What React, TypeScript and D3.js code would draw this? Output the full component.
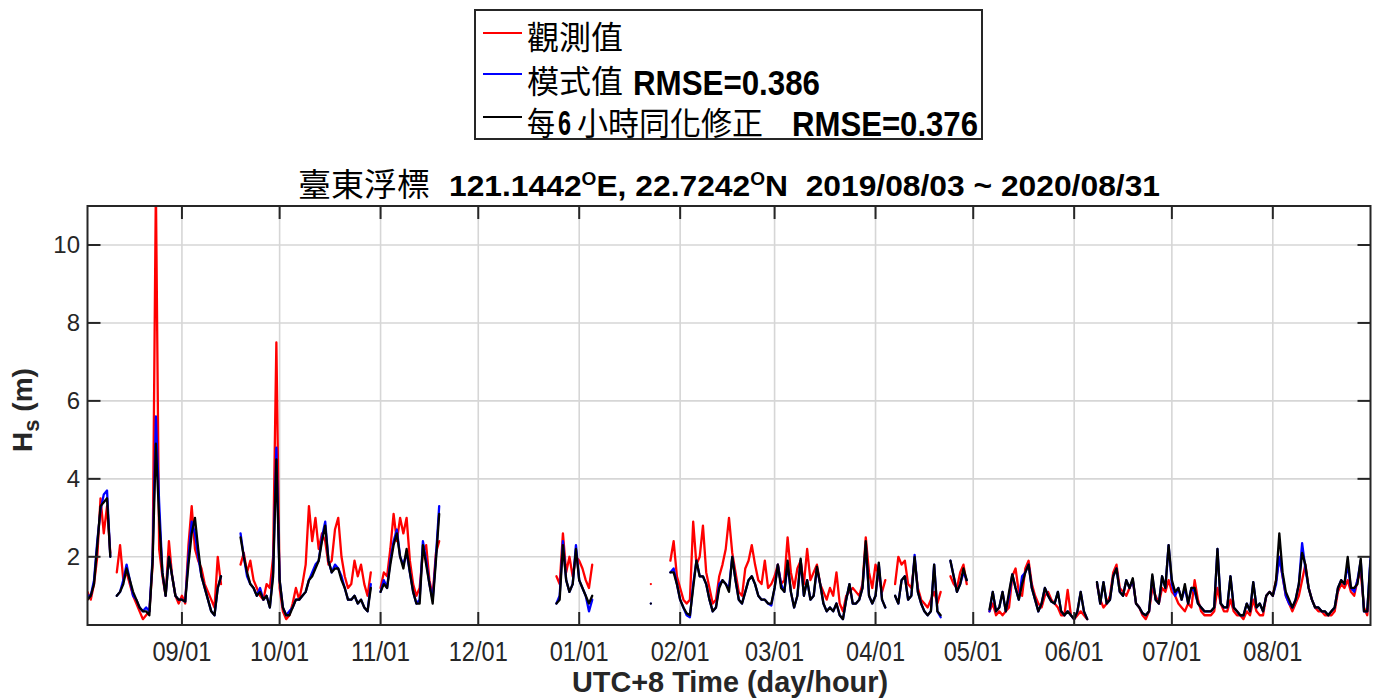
import React from "react";
import * as d3 from "d3";

// each segment holds consecutive daily Hs samples starting at segStarts[k]
const segStarts = [
  "2019-08-03", "2019-08-12", "2019-09-19", "2019-11-01", "2019-12-25", "2020-01-23",
  "2020-01-29", "2020-04-07", "2020-04-24", "2020-05-06", "2020-06-08",
];

// 觀測值 (buoy observation)
const obsHs = [
  [1.1, 0.9, 1.3, 2.0, 3.5, 2.6, 3.3, 2.1],
  [1.6, 2.3, 1.4, 1.6, 1.3, 1.0, 0.8, 0.6, 0.4, 0.5, 0.6, 1.8, 11.5, 2.2, 1.5, 1.0, 2.4, 1.5, 1.0, 0.8,
   1.0, 0.8, 2.3, 3.3, 2.2, 1.9, 1.7, 1.3, 1.1, 0.9, 0.7, 2.0, 1.3],
  [1.8, 2.1, 1.6, 1.9, 1.4, 1.2, 1.0, 0.9, 1.3, 1.2, 2.0, 7.5, 1.2, 0.6, 0.4, 0.5, 0.8, 1.2, 0.9, 1.3,
   1.8, 3.3, 2.4, 3.0, 2.2, 2.6, 2.4, 1.8, 1.9, 2.7, 3.0, 2.0, 1.5, 1.2, 1.3, 1.9, 1.5, 1.8, 1.3, 1.0, 1.6],
  [1.2, 1.6, 1.5, 2.2, 3.1, 2.4, 3.0, 2.6, 3.0, 1.9, 1.3, 1.0, 1.2, 2.1, 2.3, 1.4, 1.0, 2.1, 2.4],
  [1.5, 1.3, 2.6, 1.6, 2.0, 1.5, 2.0, 1.9, 1.7, 1.4, 1.2, 1.8],
  [1.3],
  [1.9, 2.4, 1.5, 1.2, 0.9, 0.8, 0.9, 2.9, 1.8, 2.0,
   2.8, 1.6, 1.2, 0.8, 0.9, 1.5, 1.8, 2.2, 3.0, 2.1,
   1.6, 1.1, 1.0, 1.7, 1.9, 2.3, 1.8, 1.4, 1.3, 1.9,
   1.2, 1.3, 1.5, 1.8, 1.3, 1.4, 2.5, 1.6, 1.2, 1.7,
   1.9, 1.3, 2.2, 1.4, 1.6, 1.8, 1.3, 1.1, 0.9, 1.2,
   1.0, 1.6, 0.8, 0.6, 1.0, 1.1, 1.2, 1.1, 1.0, 1.3,
   2.5, 1.6, 1.2, 1.8, 1.5, 1.1, 1.4],
  [1.3, 2.0, 1.8, 1.9, 1.3, 1.2, 1.9, 1.2, 0.9, 0.8, 0.7, 0.9, 1.1, 0.8, 1.1],
  [1.5, 1.3, 1.2, 1.6, 1.8, 1.3],
  [0.6, 0.8, 0.5, 0.6, 0.5, 0.6, 0.7, 1.5, 1.7, 1.1,
   1.0, 1.7, 1.9, 1.3, 1.0, 0.8, 0.7, 1.0, 1.1, 0.9,
   0.8, 0.7, 0.5, 0.5, 1.15, 0.5, 0.4, 0.5, 0.6, 0.5, 0.4],
  [1.3, 0.9, 0.7, 0.8, 1.0, 1.6, 1.8, 1.2, 1.1, 1.0,
   1.2, 1.4, 0.8, 0.7, 0.5, 0.4, 0.6, 1.2, 1.0, 0.8,
   1.2, 1.1, 1.4, 1.1, 1.0, 0.8, 0.7, 0.6, 0.8, 0.7,
   1.4, 0.9, 0.6, 0.5, 0.5, 0.5, 0.6, 1.2, 0.8, 0.6,
   0.6, 0.9, 0.6, 0.5, 0.5, 0.4, 0.6, 0.5, 0.9, 0.6,
   0.5, 0.5, 1.0, 1.1, 1.0, 1.4, 2.0, 1.5, 1.0, 0.8,
   0.6, 0.8, 1.0, 1.4, 1.8, 1.2, 0.9, 0.7, 0.6, 0.6,
   0.5, 0.5, 0.5, 0.6, 1.1, 1.3, 1.2, 1.4, 1.1, 1.0,
   1.4, 1.6, 0.7, 0.5, 1.5],
];

// 模式值 (wave model)
const modelHs = [
  [1.0, 1.0, 1.4, 2.4, 3.2, 3.6, 3.7, 2.0],
  [1.0, 1.1, 1.4, 1.8, 1.4, 1.0, 0.9, 0.7, 0.6, 0.7, 0.6, 2.0, 5.6, 3.4, 1.6, 1.0, 2.0, 1.5, 1.0, 0.9,
   0.9, 0.85, 2.0, 2.9, 2.6, 2.0, 1.5, 1.2, 0.9, 0.6, 0.5, 1.2, 1.5],
  [2.6, 2.0, 1.5, 1.3, 1.2, 1.0, 1.2, 0.9, 1.0, 0.7, 1.6, 4.8, 1.4, 0.7, 0.5, 0.6, 0.7, 0.9, 0.9, 1.0,
   1.1, 1.4, 1.6, 1.8, 1.9, 2.5, 2.9, 1.9, 1.6, 1.8, 1.7, 1.5, 1.2, 0.9, 0.9, 1.0, 0.8, 0.9, 0.7, 0.6, 1.3],
  [1.1, 1.4, 1.2, 1.9, 2.4, 2.7, 2.0, 1.8, 2.1, 1.6, 1.1, 0.8, 0.9, 2.4, 1.9, 1.3, 0.9, 2.0, 3.3],
  [0.8, 1.0, 2.4, 1.4, 1.1, 1.3, 2.3, 1.4, 1.2, 1.0, 0.6, 0.9],
  [0.8],
  [1.6, 1.7, 1.3, 0.9, 0.7, 0.5, 0.45, 1.3, 1.9, 1.5,
   1.5, 1.3, 0.9, 0.6, 0.7, 1.3, 1.4, 1.3, 1.2, 2.0,
   1.4, 0.9, 0.8, 1.1, 1.4, 1.5, 1.3, 1.0, 0.9, 0.9,
   0.8, 0.75, 1.2, 1.8, 1.3, 1.1, 1.8, 1.1, 0.7, 1.0,
   1.9, 1.0, 1.4, 0.9, 1.0, 1.7, 1.3, 0.8, 0.6, 0.7,
   0.6, 0.8, 0.5, 0.4, 0.9, 1.3, 0.8, 0.8, 0.9, 1.2,
   2.3, 1.0, 0.8, 1.0, 1.8, 0.9, 0.7],
  [1.0, 0.8, 1.4, 1.5, 0.9, 1.0, 2.05, 1.1, 0.8, 0.6, 0.5, 0.6, 1.8, 0.6, 0.45],
  [1.9, 1.5, 1.1, 1.3, 1.6, 1.4],
  [0.6, 1.1, 0.6, 0.7, 1.1, 0.6, 1.0, 1.55, 1.2, 0.9,
   1.5, 1.6, 1.8, 1.2, 0.9, 0.6, 0.8, 1.2, 1.0, 0.85,
   0.8, 1.1, 0.6, 0.5, 0.6, 0.5, 0.4, 0.6, 1.1, 0.6, 0.4],
  [1.35, 0.8, 1.35, 0.8, 0.9, 1.5, 1.7, 1.1, 1.0, 1.4,
   1.2, 1.4, 0.8, 0.7, 0.55, 0.5, 0.6, 1.5, 0.9, 0.8,
   1.5, 1.2, 2.3, 1.3, 1.0, 1.2, 0.9, 1.2, 0.8, 1.2,
   1.1, 0.8, 0.7, 0.6, 0.6, 0.6, 0.7, 2.2, 0.8, 0.7,
   0.7, 1.5, 0.7, 0.6, 0.5, 0.5, 0.8, 0.6, 1.35, 0.7,
   0.8, 0.6, 1.0, 1.1, 1.0, 1.3, 2.0, 1.5, 1.0, 0.8,
   0.7, 0.9, 1.3, 2.35, 1.7, 1.2, 0.9, 0.7, 0.7, 0.6,
   0.6, 0.5, 0.6, 0.7, 1.2, 1.4, 1.3, 1.8, 1.2, 1.1,
   1.4, 1.9, 0.6, 0.6, 2.0],
];

// 每6小時同化修正 (6-hourly assimilation)
const assimHs = [
  [0.9, 1.0, 1.3, 2.3, 3.3, 3.4, 3.5, 2.0],
  [1.0, 1.1, 1.3, 1.7, 1.4, 1.1, 0.9, 0.7, 0.6, 0.6, 0.5, 1.9, 4.9, 3.0, 1.6, 1.0, 2.0, 1.5, 1.0, 0.9,
   0.9, 0.85, 1.8, 2.6, 3.0, 2.2, 1.5, 1.2, 0.9, 0.6, 0.5, 1.2, 1.5],
  [2.5, 2.0, 1.6, 1.3, 1.2, 1.0, 1.1, 0.9, 1.0, 0.7, 1.5, 4.5, 1.4, 0.7, 0.5, 0.5, 0.7, 0.9, 0.9, 1.0,
   1.1, 1.4, 1.5, 1.7, 1.9, 2.4, 2.8, 1.9, 1.6, 1.7, 1.7, 1.4, 1.2, 0.9, 0.9, 1.0, 0.8, 0.9, 0.7, 0.6, 1.2],
  [1.1, 1.3, 1.2, 1.8, 2.3, 2.6, 2.0, 1.7, 2.2, 1.6, 1.1, 0.8, 0.8, 2.3, 1.8, 1.3, 0.8, 1.9, 3.1],
  [0.8, 0.9, 2.3, 1.4, 1.1, 1.3, 2.2, 1.4, 1.2, 1.0, 0.8, 1.0],
  [0.8],
  [1.6, 1.6, 1.3, 0.9, 0.7, 0.55, 0.5, 1.2, 1.9, 1.5,
   1.5, 1.3, 0.9, 0.6, 0.7, 1.2, 1.4, 1.3, 1.1, 2.0,
   1.4, 0.9, 0.8, 1.1, 1.4, 1.5, 1.3, 1.0, 0.9, 0.9,
   0.8, 0.8, 1.2, 1.8, 1.2, 1.1, 1.9, 1.1, 0.7, 1.0,
   1.95, 1.0, 1.4, 0.9, 1.0, 1.75, 1.3, 0.8, 0.6, 0.7,
   0.6, 0.8, 0.5, 0.4, 0.9, 1.3, 0.8, 0.8, 0.9, 1.2,
   2.4, 1.0, 0.8, 1.0, 1.85, 0.9, 0.7],
  [1.0, 0.8, 1.4, 1.5, 0.9, 1.0, 2.0, 1.1, 0.8, 0.6, 0.5, 0.6, 1.8, 0.6, 0.5],
  [1.9, 1.5, 1.1, 1.3, 1.7, 1.4],
  [0.65, 1.1, 0.6, 0.7, 1.1, 0.6, 1.1, 1.55, 1.2, 0.9,
   1.3, 1.6, 1.8, 1.2, 0.9, 0.6, 0.8, 1.2, 1.0, 0.85,
   0.8, 1.1, 0.6, 0.5, 0.6, 0.5, 0.4, 0.6, 1.1, 0.6, 0.4],
  [1.35, 0.8, 1.35, 0.8, 0.9, 1.5, 1.7, 1.1, 1.0, 1.4,
   1.2, 1.45, 0.8, 0.7, 0.55, 0.5, 0.6, 1.55, 0.9, 0.8,
   1.5, 1.2, 2.3, 1.4, 1.1, 1.2, 0.9, 1.3, 0.8, 1.2,
   1.2, 0.8, 0.7, 0.6, 0.6, 0.6, 0.7, 2.2, 0.8, 0.7,
   0.7, 1.5, 0.7, 0.6, 0.5, 0.5, 0.8, 0.6, 1.35, 0.7,
   0.8, 0.6, 1.0, 1.1, 1.0, 1.4, 2.6, 1.6, 1.1, 0.9,
   0.7, 0.9, 1.3, 2.1, 1.8, 1.2, 0.9, 0.7, 0.7, 0.6,
   0.6, 0.5, 0.6, 0.7, 1.2, 1.4, 1.3, 2.0, 1.2, 1.2,
   1.3, 1.95, 0.6, 0.6, 1.9],
];

const monthTicks = [
  "2019-09-01", "2019-10-01", "2019-11-01", "2019-12-01", "2020-01-01", "2020-02-01",
  "2020-03-01", "2020-04-01", "2020-05-01", "2020-06-01", "2020-07-01", "2020-08-01",
];
const yTicks = [2, 4, 6, 8, 10];

const cjk = "'Noto Sans CJK TC', 'Noto Sans CJK SC', sans-serif";
const sans = "'Liberation Sans', Arial, sans-serif";
const narrow = "'Liberation Sans Narrow', 'Arial Narrow', 'Liberation Sans', sans-serif";
const axisColor = "#262626";

const parseDay = d3.timeParse("%Y-%m-%d");
const fmtTick = d3.timeFormat("%m/%d");

type Pt = { t: Date; v: number };

const App = () => {
  const left = 87.5, right = 1370.5, top = 206, bottom = 625;

  const x = d3.scaleTime()
    .domain([parseDay("2019-08-03")!, parseDay("2020-08-31")!])
    .range([left, right]);
  const y = d3.scaleLinear().domain([0.25, 11]).range([bottom, top]);

  const line = d3.line<Pt>().x(d => x(d.t)).y(d => y(d.v));

  const toSegs = (series: number[][]) =>
    series.map((vals, k) => {
      const start = parseDay(segStarts[k])!;
      return vals.map((v, i) => ({ t: d3.timeDay.offset(start, i), v }));
    });

  const series = [
    { color: "#ff0000", segs: toSegs(obsHs) },
    { color: "#0000ff", segs: toSegs(modelHs) },
    { color: "#000000", segs: toSegs(assimHs) },
  ];

  const xTicks = monthTicks.map(s => parseDay(s)!);

  return (
    <svg width={1381} height={700} style={{ position: "absolute", left: 0, top: 0, background: "#fff" }}>
      <defs>
        <clipPath id="plotClip">
          <rect x={left} y={top} width={right - left} height={bottom - top} />
        </clipPath>
      </defs>

      {/* legend */}
      <rect x={475} y={10} width={507} height={129} fill="#fff" stroke={axisColor} strokeWidth={2} />
      {[33, 74, 117].map((ly, i) => (
        <line key={i} x1={483} x2={522} y1={ly} y2={ly} stroke={series[i].color} strokeWidth={2} />
      ))}
      <text x={527} y={49} fontFamily={cjk} fontSize={32} textLength={96} lengthAdjust="spacingAndGlyphs">觀測值</text>
      <text x={527} y={93} fontFamily={cjk} fontSize={32} textLength={96} lengthAdjust="spacingAndGlyphs">模式值</text>
      <text x={633} y={95} fontFamily={sans} fontWeight="bold" fontSize={35} textLength={187} lengthAdjust="spacingAndGlyphs">RMSE=0.386</text>
      <text x={527} y={135} fontFamily={cjk} fontSize={32} textLength={28} lengthAdjust="spacingAndGlyphs">每</text>
      <text x={558} y={135} fontFamily={sans} fontWeight="bold" fontSize={35} textLength={13} lengthAdjust="spacingAndGlyphs">6</text>
      <text x={577} y={135} fontFamily={cjk} fontSize={32} textLength={186} lengthAdjust="spacingAndGlyphs">小時同化修正</text>
      <text x={792} y={136} fontFamily={sans} fontWeight="bold" fontSize={35} textLength={186} lengthAdjust="spacingAndGlyphs">RMSE=0.376</text>

      {/* title */}
      <text x={298} y={196} fontFamily={cjk} fontSize={32} textLength={132} lengthAdjust="spacingAndGlyphs">臺東浮標</text>
      <text x={449} y={196} fontFamily={narrow} fontWeight="bold" fontSize={30} textLength={711}
        lengthAdjust="spacingAndGlyphs" style={{ whiteSpace: "pre" }}>
        121.1442<tspan dy={-11} fontSize={18}>O</tspan><tspan dy={11}>E, 22.7242</tspan>
        <tspan dy={-11} fontSize={18}>O</tspan><tspan dy={11}>{"N  2019/08/03 ~ 2020/08/31"}</tspan>
      </text>

      {/* grid */}
      <g stroke="#d6d6d6" strokeWidth={1.6}>
        {xTicks.map((t, i) => <line key={i} x1={x(t)} x2={x(t)} y1={top} y2={bottom} />)}
        {yTicks.map(v => <line key={v} x1={left} x2={right} y1={y(v)} y2={y(v)} />)}
      </g>

      {/* data */}
      <g clipPath="url(#plotClip)" fill="none" strokeLinejoin="round" strokeLinecap="round">
        {series.map((s, i) => (
          <g key={i} stroke={s.color} strokeWidth={2.3}>
            {s.segs.map((seg, k) => <path key={k} d={line(seg) || ""} />)}
          </g>
        ))}
      </g>

      {/* axes box and ticks */}
      <rect x={left} y={top} width={right - left} height={bottom - top} fill="none" stroke={axisColor} strokeWidth={2} />
      <g stroke={axisColor} strokeWidth={2}>
        {xTicks.map((t, i) => (
          <g key={i}>
            <line x1={x(t)} x2={x(t)} y1={bottom} y2={bottom - 13} />
            <line x1={x(t)} x2={x(t)} y1={top} y2={top + 13} />
          </g>
        ))}
        {yTicks.map(v => (
          <g key={v}>
            <line x1={left} x2={left + 13} y1={y(v)} y2={y(v)} />
            <line x1={right} x2={right - 13} y1={y(v)} y2={y(v)} />
          </g>
        ))}
      </g>

      {/* tick labels */}
      {xTicks.map((t, i) => (
        <text key={i} x={x(t)} y={661} textAnchor="middle" fontFamily={narrow} fontSize={28} fill="#262626"
          textLength={59} lengthAdjust="spacingAndGlyphs">{fmtTick(t)}</text>
      ))}
      {yTicks.map(v => (
        <text key={v} x={80} y={y(v) + 8.5} textAnchor="end" fontFamily={sans} fontSize={24} fill="#262626">{v}</text>
      ))}

      {/* axis labels */}
      <text x={730} y={692} textAnchor="middle" fontFamily={narrow} fontWeight="bold" fontSize={30} fill="#262626"
        textLength={316} lengthAdjust="spacingAndGlyphs">UTC+8 Time (day/hour)</text>
      <text transform="translate(32,410) rotate(-90)" textAnchor="middle" fontFamily={sans} fontWeight="bold"
        fontSize={28} fill="#262626" style={{ whiteSpace: "pre" }}>
        H<tspan dy={7} fontSize={22}>s</tspan><tspan dy={-7}>{" (m)"}</tspan>
      </text>
    </svg>
  );
};

export default App;
